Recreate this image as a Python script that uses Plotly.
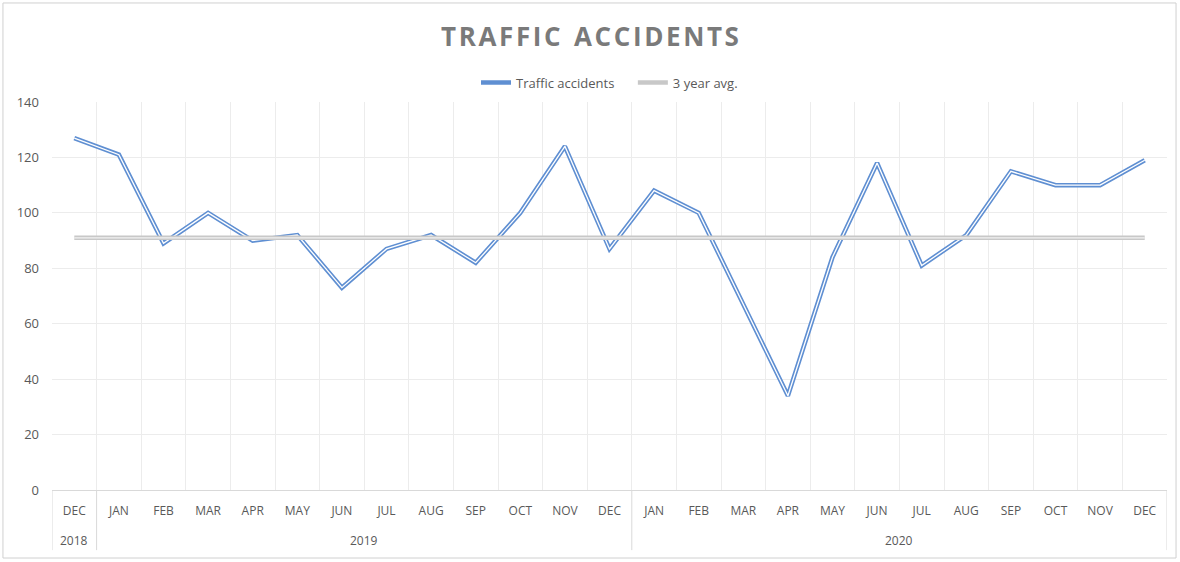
import plotly.graph_objects as go

years = ["2018", "2019", "2020"]
year_months = [1, 12, 12]
months = ["DEC", "JAN", "FEB", "MAR", "APR", "MAY", "JUN", "JUL", "AUG", "SEP", "OCT", "NOV", "DEC",
          "JAN", "FEB", "MAR", "APR", "MAY", "JUN", "JUL", "AUG", "SEP", "OCT", "NOV", "DEC"]
accidents = [127, 121, 89, 100, 90, 92, 73, 87, 92, 82, 100, 124, 87,
             108, 100, 67, 34, 84, 118, 81, 92, 115, 110, 110, 119]
avg_3y = [91] * len(months)

xs = list(range(len(months)))
blue = "#5f8fd2"
gray = "#c8c8c8"
label_color = "#595959"

fig = go.Figure()
fig.add_trace(go.Scatter(x=xs, y=accidents, mode="lines", name="Traffic accidents    ",
                         line=dict(color=blue, width=4.5)))
fig.add_trace(go.Scatter(x=xs, y=accidents, mode="lines", showlegend=False, hoverinfo="skip",
                         line=dict(color="white", width=1.3)))
fig.add_trace(go.Scatter(x=xs, y=avg_3y, mode="lines", name="3 year avg.",
                         line=dict(color=gray, width=4.5)))
fig.add_trace(go.Scatter(x=xs, y=avg_3y, mode="lines", showlegend=False, hoverinfo="skip",
                         line=dict(color="#f2f2f2", width=1.3)))

title_text = "\u200a".join("TRAFFIC ACCIDENTS").replace("\u200a \u200a", "  ")

fig.update_layout(
    width=1180, height=562,
    margin=dict(l=52, r=13, t=102, b=72, autoexpand=False),
    paper_bgcolor="white", plot_bgcolor="white",
    title=dict(text="<b>" + title_text + "</b>",
               x=0.5, xanchor="center", y=0.935, yanchor="middle",
               font=dict(family="Open Sans", size=26, color="#7a7a7a")),
    legend=dict(orientation="h", x=0.5, xanchor="center", y=1.05, yanchor="middle",
                font=dict(family="Open Sans", size=13, color=label_color),
                itemwidth=30, traceorder="normal"),
    showlegend=True,
    font=dict(family="Open Sans", color=label_color, size=13),
)

boundaries = [i - 0.5 for i in range(len(months) + 1)]
fig.update_xaxes(range=[-0.5, len(months) - 0.5], tickmode="array", tickvals=xs, ticktext=months,
                 showgrid=False, zeroline=False, showline=True, linecolor="#d9d9d9", ticks="",
                 ticklabelstandoff=10,
                 tickfont=dict(family="Open Sans", size=12, color=label_color),
                 minor=dict(tickmode="array", tickvals=boundaries, showgrid=True,
                            gridcolor="#ececec", gridwidth=1, ticks=""),
                 automargin=False)
fig.update_yaxes(range=[0, 140], dtick=20, showgrid=True, gridcolor="#ececec",
                 zeroline=False, showline=False, ticks="", ticklabelstandoff=12,
                 tickfont=dict(family="Open Sans", size=13, color=label_color),
                 automargin=False)

# year group dividers and labels
start = 0
div_positions = [-0.5]
for yr, n in zip(years, year_months):
    center = start + (n - 1) / 2
    fig.add_annotation(x=center, y=-0.129, xref="x", yref="paper", text=yr, showarrow=False,
                       font=dict(family="Open Sans", size=12, color=label_color),
                       xanchor="center", yanchor="middle")
    start += n
    div_positions.append(start - 0.5)
for p in div_positions:
    fig.add_shape(type="line", xref="x", yref="paper", x0=p, x1=p, y0=0, y1=-0.155,
                  line=dict(color="#d9d9d9", width=1))

fig.add_shape(type="rect", xref="paper", yref="paper",
              x0=-0.044, x1=1.0081, y0=-0.1753, y1=1.2552,
              line=dict(color="#d0d0d0", width=1), fillcolor="rgba(0,0,0,0)", layer="below")

fig.write_html("out.html", config={"displayModeBar": False},
               post_script="document.body.style.margin='0';")
